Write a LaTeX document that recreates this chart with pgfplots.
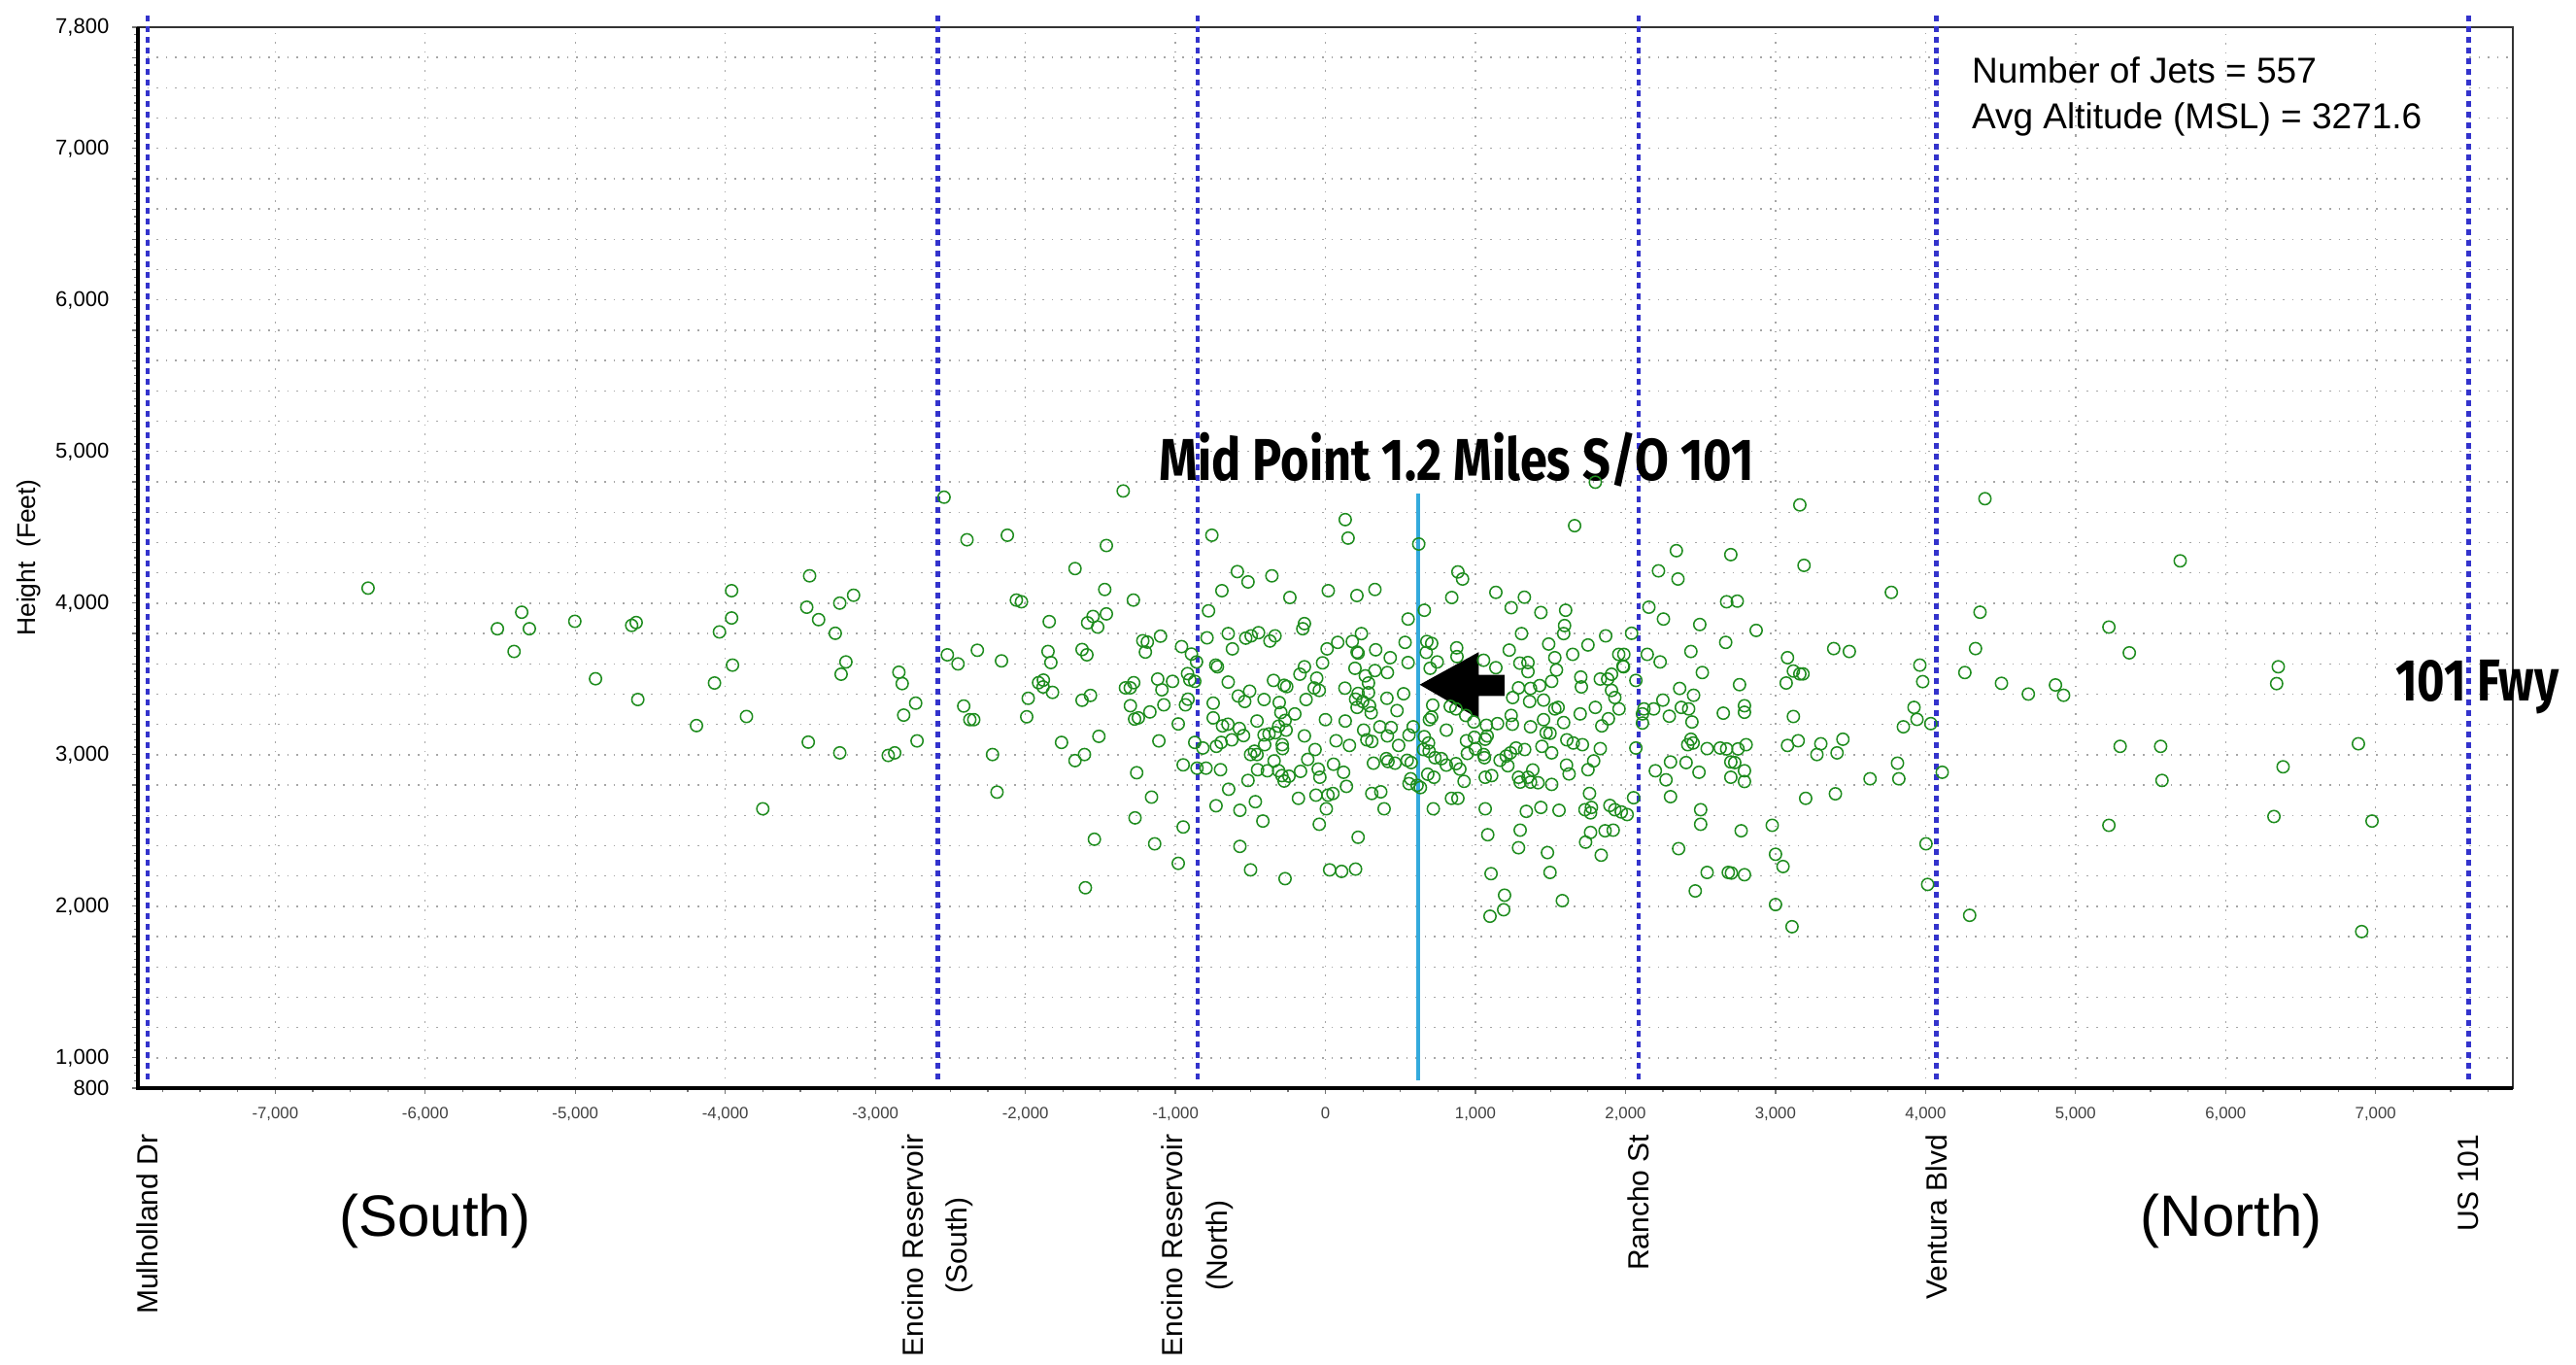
\documentclass[border=0pt]{standalone}
\usepackage{pgfplots}
\pgfplotsset{compat=1.18}
\usepackage{graphicx}
\usepackage{fontspec}
\setmainfont{Liberation Sans}
\newfontfamily\dinfont{Fira Sans}
\definecolor{ptgreen}{RGB}{30,140,30}
\definecolor{dotblue}{RGB}{51,51,204}
\definecolor{midblue}{RGB}{52,170,220}
\begin{document}
\begin{tikzpicture}
\useasboundingbox (0,0) rectangle (663pt,351pt);
\begin{axis}[
  at={(35.5pt,71pt)}, anchor=south west,
  scale only axis, width=611.25pt, height=273pt,
  xmin=-7915, xmax=7915, ymin=800, ymax=7800,
  clip=false,
  xtick={-7000,-6000,...,7000},
  xticklabels={{-7,000},{-6,000},{-5,000},{-4,000},{-3,000},{-2,000},{-1,000},{0},{1,000},{2,000},{3,000},{4,000},{5,000},{6,000},{7,000}},
  minor xtick={-7750,-7500,...,7750},
  ytick={800,1000,...,7800},
  yticklabels={{800},{1,000},{},{},{},{},{2,000},{},{},{},{},{3,000},{},{},{},{},{4,000},{},{},{},{},{5,000},{},{},{},{},{6,000},{},{},{},{},{7,000},{},{},{},{7,800}},
  minor ytick={850,900,...,7750},
  xmajorgrids, ymajorgrids,
  grid style={dotted, black!35, line width=0.35pt},
  tick align=outside, tick pos=left,
  major tick length=1.4pt, minor tick length=1.1pt,
  tick style={black!55, line width=0.3pt},
  axis line style={black!80, line width=0.5pt},
  xticklabel style={font=\fontsize{4.2}{5}\selectfont, text=black!75},
  yticklabel style={font=\fontsize{5.5}{6}\selectfont, xshift=-2.5pt},
  ylabel={Height\ \ (Feet)},
  ylabel style={font=\fontsize{6.6}{7}\selectfont, at={(axis description cs:-0.0458,0.5)}, anchor=center},
]
\fill[white] (axis cs:4136,7790) rectangle (axis cs:7590,7085);
\draw[dotted, black!35, line width=0.35pt] (axis cs:5000,7085) -- (axis cs:5000,7800);
\draw[dotted, black!35, line width=0.35pt] (axis cs:6000,7085) -- (axis cs:6000,7800);
\draw[dotted, black!35, line width=0.35pt] (axis cs:7000,7085) -- (axis cs:7000,7800);
\addplot[only marks, mark=o, mark size=1.55pt, color=ptgreen, mark options={line width=0.38pt}] table {
x y
-6381 4099
-5357 3940
-5519 3831
-5306 3831
-5408 3681
-5003 3880
-4624 3853
-4594 3872
-4865 3501
-4583 3364
-3958 4082
-3958 3902
-4039 3810
-3952 3591
-4072 3473
-3859 3252
-4192 3192
-3750 2643
-3438 4180
-3457 3973
-3237 4000
-3145 4052
-3378 3891
-3267 3801
-3196 3612
-3228 3531
-3447 3083
-3237 3012
-2843 3544
-2821 3469
-2731 3340
-2811 3261
-2722 3091
-2914 2995
-2871 3012
-2542 4699
-2389 4418
-2120 4448
-2520 3659
-2449 3599
-2320 3689
-2159 3619
-2411 3321
-2370 3231
-2344 3231
-2219 3001
-2189 2753
-2060 4020
-2026 4009
-1841 3878
-1981 3372
-1991 3250
-1912 3475
-1880 3492
-1882 3447
-1819 3411
-1849 3681
-1830 3608
-1759 3081
-1669 4228
-1622 3694
-1590 3659
-1622 3359
-1566 3391
-1669 2961
-1606 3001
-1540 2442
-1600 2122
-1585 3870
-1549 3912
-1518 3842
-1460 3929
-1471 4090
-1460 4380
-1348 4740
-1510 3121
-1280 4020
-1301 3441
-1333 3441
-1278 3475
-1300 3323
-1272 3235
-1247 3243
-1217 3752
-1187 3743
-1200 3677
-1099 3782
-1118 3499
-1090 3428
-1077 3329
-1170 3282
-1258 2881
-1159 2720
-1269 2583
-1138 2412
-1110 3091
-1019 3484
-981 3203
-959 3713
-893 3664
-859 3612
-919 3535
-904 3494
-871 3484
-916 3366
-933 3329
-871 3081
-948 2933
-856 2911
-948 2523
-981 2283
-757 4448
-779 3949
-789 3771
-690 4082
-587 4208
-516 4140
-357 4180
-237 4037
-648 3799
-620 3698
-531 3769
-495 3784
-446 3805
-370 3750
-336 3784
-140 3865
-151 3831
-731 3591
-720 3580
-648 3479
-748 3340
-748 3243
-686 3190
-650 3201
-581 3387
-505 3419
-538 3351
-409 3364
-308 3344
-346 3490
-275 3458
-258 3449
-204 3269
-129 3364
-140 3580
-170 3531
-456 3222
-297 3278
-269 3226
-312 3188
-574 3173
-546 3126
-624 3098
-409 3130
-376 3137
-333 3145
-262 3162
-140 3124
-695 3081
-727 3055
-817 3044
-796 2911
-699 2901
-499 3001
-473 3023
-456 3001
-405 3066
-342 2959
-288 3066
-286 3040
-312 2894
-290 2862
-452 2901
-387 2894
-275 2826
-243 2858
-166 2890
-118 2969
-516 2830
-645 2772
-467 2690
-180 2712
-729 2663
-570 2633
-417 2562
-570 2395
-499 2240
-269 2182
132 4551
151 4429
622 4390
1799 4798
1661 4511
19 4082
210 4050
330 4090
883 4206
914 4159
842 4037
659 3953
551 3895
1136 4071
1326 4039
1238 3970
1436 3938
1601 3953
1594 3852
1588 3799
1307 3799
1868 3784
2041 3801
82 3741
11 3698
179 3747
240 3799
211 3677
218 3670
335 3692
432 3640
531 3741
551 3608
-19 3606
676 3747
708 3734
672 3675
745 3612
698 3570
875 3705
877 3647
1054 3623
1136 3574
1225 3690
1296 3604
1350 3608
1350 3548
1488 3730
1529 3640
1540 3559
1648 3662
1750 3724
1955 3662
1989 3662
1987 3580
2145 3662
2231 3612
197 3570
266 3520
330 3555
413 3542
287 3473
-58 3505
-41 3424
-75 3440
130 3439
218 3404
287 3409
201 3366
248 3351
211 3312
294 3323
410 3372
521 3402
477 3291
305 3276
0 3231
132 3222
363 3184
438 3179
413 3124
255 3162
276 3098
309 3087
71 3092
160 3061
488 3061
557 3130
585 3184
-69 3034
-48 2905
-37 2851
54 2937
121 2884
140 2791
-63 2733
17 2733
50 2744
6 2643
-41 2541
320 2944
406 2974
417 2955
464 2944
545 2963
572 2948
568 2841
557 2809
611 2798
633 2783
309 2744
369 2755
391 2643
719 2643
218 2455
28 2240
108 2230
201 2245
659 3119
687 3077
654 3034
691 3023
730 2980
773 2974
806 2931
682 2871
723 2851
715 3327
708 3248
693 3231
806 3162
832 3319
870 3302
935 3259
989 3216
1073 3194
1078 3124
1065 3102
1147 3205
1238 3259
1246 3201
1248 3377
1287 3441
1367 3437
1428 3456
1508 3484
1454 3360
1361 3351
1529 3302
1551 3312
1454 3231
1367 3184
1471 3145
1497 3141
1588 3212
1702 3512
1706 3447
1698 3269
1799 3312
1832 3499
1881 3499
1907 3531
1907 3424
1929 3377
1957 3302
1842 3190
1886 3237
1983 3584
2069 3490
2113 3269
2113 3209
940 3092
993 3115
1000 3038
1054 3001
1060 2980
946 3008
896 2905
924 2824
870 2941
840 2712
883 2712
1164 2963
1205 2991
1233 3012
1270 3044
1328 3034
1216 2927
1065 2851
1108 2862
1287 2851
1298 2819
1350 2851
1382 2899
1367 2819
1417 2815
1508 2804
1443 3055
1508 3012
1609 3098
1652 3077
1713 3066
1832 3040
1788 2959
1607 2931
1624 2873
1750 2901
1760 2744
1730 2637
1767 2616
1773 2652
1557 2633
1436 2652
1339 2626
1065 2643
1082 2472
1298 2502
1287 2386
1480 2354
1497 2223
1104 2215
1194 2073
1188 1977
1097 1934
1579 2037
1896 2665
1929 2637
1972 2622
2011 2605
2054 2716
1767 2487
1734 2423
1864 2498
1918 2502
1838 2337
2069 3044
2199 2894
2270 2834
2300 2952
2300 2723
2220 4213
2350 4159
2339 4346
2156 3973
2253 3895
2123 3302
2188 3302
2249 3360
2292 3254
2361 3437
2372 3312
2421 3302
2454 3392
2443 3216
2436 3102
2415 3066
2404 2948
2451 3077
2490 2884
2544 3040
2495 3859
2436 3681
2512 3542
2674 4009
2745 4013
2702 4320
2668 3741
2760 3462
2652 3274
2793 3323
2793 3280
2631 3044
2674 3038
2702 2952
2728 2948
2750 3038
2804 3066
2793 2894
2793 2823
2702 2851
2501 2637
2501 2541
2354 2380
2544 2223
2465 2101
2771 2498
2706 2219
2685 2223
2793 2208
3162 4648
3190 4249
3772 4071
4396 4689
4363 3940
2871 3820
3080 3640
3119 3552
3162 3533
3183 3533
3071 3473
3388 3700
3492 3681
3962 3591
3981 3482
4333 3700
4262 3542
4506 3471
4685 3400
4866 3460
4920 3392
5222 3842
5358 3672
3119 3252
3080 3061
3151 3092
3302 3072
3276 3001
3410 3012
3449 3102
3923 3312
3943 3233
3852 3184
4035 3205
3813 2944
3822 2841
3630 2841
4111 2884
3201 2712
3399 2742
5297 3055
2978 2534
3000 2343
3050 2262
4003 2412
4014 2144
3000 2011
3110 1865
4294 1940
5222 2534
5697 4279
6351 3580
6340 3469
5567 3055
5576 2830
6383 2920
6885 3072
6322 2592
6976 2562
6907 1833
};
% reference lines
\draw[dotblue, line width=1.2pt, dash pattern=on 1.3pt off 1.45pt] (axis cs:-7850,860) -- (axis cs:-7850,7896);
\draw[dotblue, line width=1.2pt, dash pattern=on 1.3pt off 1.45pt] (axis cs:-2585,860) -- (axis cs:-2585,7896);
\draw[dotblue, line width=1.2pt, dash pattern=on 1.3pt off 1.45pt] (axis cs:-852,860) -- (axis cs:-852,7896);
\draw[dotblue, line width=1.2pt, dash pattern=on 1.3pt off 1.45pt] (axis cs:2088,860) -- (axis cs:2088,7896);
\draw[dotblue, line width=1.2pt, dash pattern=on 1.3pt off 1.45pt] (axis cs:4072,860) -- (axis cs:4072,7896);
\draw[dotblue, line width=1.2pt, dash pattern=on 1.3pt off 1.45pt] (axis cs:7619,860) -- (axis cs:7619,7896);
\draw[midblue, line width=1pt] (axis cs:615,850) -- (axis cs:615,4725);
\fill[black] (axis cs:628,3462) -- (axis cs:1022,3677) -- (axis cs:1022,3527) -- (axis cs:1194,3527) -- (axis cs:1194,3387) -- (axis cs:1022,3387) -- (axis cs:1022,3237) -- cycle;
\draw[black, line width=0.8pt] (rel axis cs:0,1) -- (rel axis cs:0,0) -- (rel axis cs:1,0);
% texts
\node[font=\dinfont\bfseries\fontsize{15.2}{16}\selectfont, inner sep=0pt] at (axis cs:874,4944) {\scalebox{0.83}[1]{Mid Point 1.2 Miles S/O 101}};
\node[font=\dinfont\bfseries\fontsize{15.2}{16}\selectfont, inner sep=0pt, anchor=west] at (axis cs:7127,3447) {\scalebox{0.8}[1]{101 Fwy}};
\node[anchor=west, align=left, inner sep=0pt, font=\fontsize{9.25}{11.7}\selectfont] at (axis cs:4304,7340) {Number of Jets = 557\\Avg Altitude (MSL) = 3271.6};
\node[font=\fontsize{15}{15}\selectfont] at ([yshift=-34.25pt]axis cs:-5935,800) {(South)};
\node[font=\fontsize{15}{15}\selectfont] at ([yshift=-34.25pt]axis cs:6039,800) {(North)};
\node[rotate=90, anchor=east, align=center, inner sep=0pt, font=\fontsize{7.5}{11.4}\selectfont] at ([yshift=-11.75pt]axis cs:-7850,800) {Mulholland Dr};
\node[rotate=90, anchor=east, align=center, inner sep=0pt, font=\fontsize{7.5}{11.4}\selectfont] at ([yshift=-11.75pt]axis cs:-2585,800) {Encino Reservoir\\(South)};
\node[rotate=90, anchor=east, align=center, inner sep=0pt, font=\fontsize{7.5}{11.4}\selectfont] at ([yshift=-11.75pt]axis cs:-852,800) {Encino Reservoir\\(North)};
\node[rotate=90, anchor=east, align=center, inner sep=0pt, font=\fontsize{7.5}{11.4}\selectfont] at ([yshift=-11.75pt]axis cs:2088,800) {Rancho St};
\node[rotate=90, anchor=east, align=center, inner sep=0pt, font=\fontsize{7.5}{11.4}\selectfont] at ([yshift=-11.75pt]axis cs:4072,800) {Ventura Blvd};
\node[rotate=90, anchor=east, align=center, inner sep=0pt, font=\fontsize{7.5}{11.4}\selectfont] at ([yshift=-11.75pt]axis cs:7619,800) {US 101};
\end{axis}
\end{tikzpicture}
\end{document}
